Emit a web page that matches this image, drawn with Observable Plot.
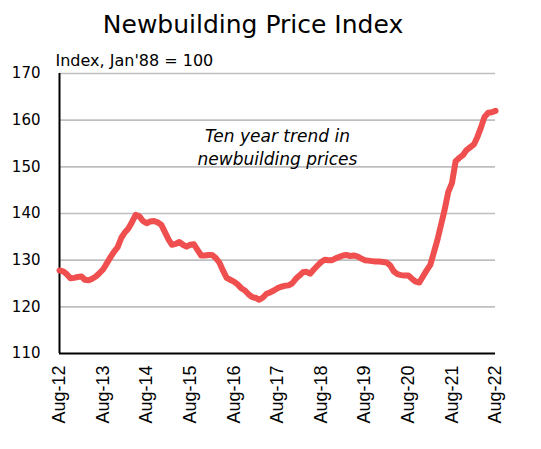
<!DOCTYPE html>
<html>
<head>
<meta charset="utf-8">
<script src="https://cdn.jsdelivr.net/npm/d3@7"></script>
<script src="https://cdn.jsdelivr.net/npm/@observablehq/plot@0.6"></script>
<style>
  html, body { margin: 0; padding: 0; background: #fff; }
  #wrap { width: 541px; height: 449px; position: relative; }
  #title { box-sizing: border-box; width: 506px; height: 44px; padding-top: 10px; line-height: 29px;
           text-align: center; font-family: "DejaVu Sans", sans-serif; font-size: 25px; color: #000; }
</style>
</head>
<body>
<div id="wrap">
  <div id="title">Newbuilding Price Index</div>
  <div id="chart"></div>
</div>
<script>
const titleText = "Newbuilding Price Index";
const subtitleText = "Index, Jan'88 = 100";
const noteText = "Ten year trend in\nnewbuilding prices";
const startYear = 2012, startMonth = 7; // Aug-12 (0-based month)
// Monthly index, Aug-12 .. Aug-22
const values = [
  127.8, 127.6, 127.0, 126.1, 126.2, 126.4, 126.5, 125.8, 125.7, 126.0,
  126.5, 127.2, 128.0, 129.3, 130.6, 131.8, 132.8, 134.8, 136.0, 136.8,
  138.2, 139.7, 139.4, 138.4, 137.9, 138.3, 138.4, 138.1, 137.6, 136.0,
  134.4, 133.3, 133.5, 133.9, 133.3, 132.9, 133.3, 133.4, 132.2, 131.0,
  131.0, 131.1, 131.1, 130.5, 129.5, 127.8, 126.2, 125.8, 125.4, 124.8,
  124.0, 123.5, 122.7, 122.1, 121.9, 121.5, 122.0, 122.8, 123.1, 123.5,
  124.0, 124.3, 124.5, 124.6, 125.0, 126.0, 126.7, 127.4, 127.5, 127.1,
  128.0, 128.8, 129.6, 130.1, 130.0, 130.0, 130.4, 130.7, 131.0, 131.1,
  130.9, 131.0, 130.8, 130.4, 130.0, 129.9, 129.8, 129.7, 129.7, 129.6,
  129.5, 128.9, 127.6, 127.0, 126.8, 126.7, 126.7, 126.0, 125.4, 125.2,
  126.5, 127.8, 129.0, 131.5, 134.3, 137.5, 140.8, 144.6, 146.5, 151.2,
  151.9, 152.5, 153.6, 154.2, 154.8, 156.3, 158.4, 160.7, 161.6, 161.7,
  162.0
];
const yTicks = [110, 120, 130, 140, 150, 160, 170];
const gridTicks = [120, 130, 140, 150, 160, 170];
const tickYears = [2012, 2013, 2014, 2015, 2016, 2017, 2018, 2019, 2020, 2021, 2022];

const data = values.map((v, i) => ({ date: new Date(Date.UTC(startYear, startMonth + i, 1)), value: v }));
const xTicks = tickYears.map(y => new Date(Date.UTC(y, startMonth, 1)));
const xDomain = [data[0].date, data[data.length - 1].date];

const chart = Plot.plot({
  width: 541,
  height: 405,
  marginTop: 29,
  marginBottom: 96,
  marginLeft: 59,
  marginRight: 46,
  style: { fontFamily: "DejaVu Sans, sans-serif", fontSize: "15px", color: "#000", background: "#fff" },
  x: { type: "utc", domain: xDomain },
  y: { domain: [yTicks[0], yTicks[yTicks.length - 1]] },
  marks: [
    Plot.gridY(gridTicks, { stroke: "#bfbfbf", strokeOpacity: 1, strokeWidth: 1.6 }),
    Plot.axisY(yTicks, { tickSize: 0, tickPadding: 19, fontSize: 15, label: null }),
    Plot.axisX(xTicks, {
      tickSize: 0, tickPadding: 12, tickRotate: -90, label: null,
      tickFormat: d3.utcFormat("%b-%y"),
      fontFamily: "Liberation Sans, Arial, sans-serif", fontSize: 18
    }),
    Plot.ruleY([yTicks[0]], { stroke: "#000", strokeWidth: 2 }),
    Plot.ruleX([xDomain[0]], { stroke: "#000", strokeWidth: 2 }),
    Plot.line(data, { x: "date", y: "value", stroke: "#f04f4f", strokeWidth: 6, strokeLinejoin: "round", strokeLinecap: "round", curve: "linear" }),
    Plot.text([subtitleText], { text: d => d, frameAnchor: "top-left", textAnchor: "start", lineAnchor: "top", dx: -4, dy: -19, fontSize: 16 }),
    Plot.text([noteText], { text: d => d, frameAnchor: "top", textAnchor: "middle", lineAnchor: "top", dy: 52, fontSize: 17, fontStyle: "italic", lineHeight: 1.35 })
  ]
});
document.getElementById("chart").appendChild(chart);
</script>
</body>
</html>
